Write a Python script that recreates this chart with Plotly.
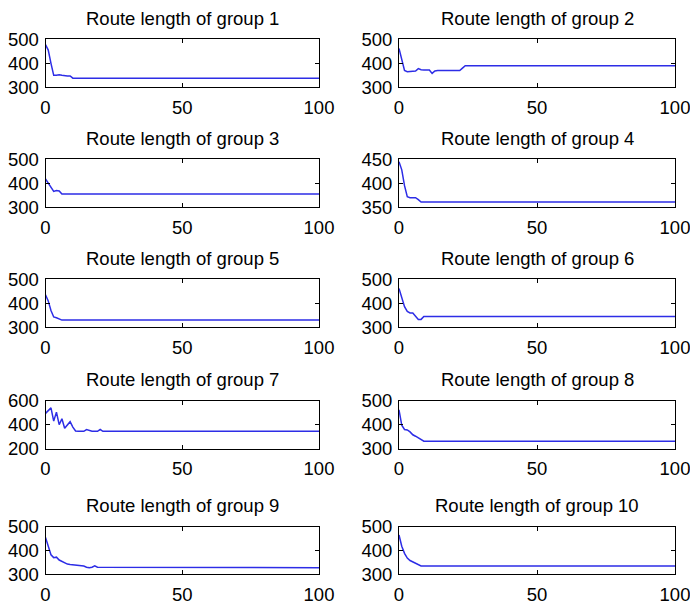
import plotly.graph_objects as go

# Route length per iteration for each group (iteration, length); the last
# point of each series marks where the converged value ends at iteration 100.
g1_iter = [0, 1, 2, 3, 4, 5, 6, 7, 8, 9, 10, 100]
g1_len = [478, 455, 400, 350, 350, 352, 350, 347, 347, 347, 338, 338]

g2_iter = [0, 1, 2, 3, 4, 5, 6, 7, 8, 9, 10, 11, 12, 13, 14, 22, 23, 24, 100]
g2_len = [462, 420, 370, 365, 365, 365, 368, 378, 373, 372, 372, 372, 358, 368, 370, 370, 380, 390, 390]

g3_iter = [0, 1, 2, 3, 4, 5, 6, 100]
g3_len = [418, 400, 380, 366, 370, 368, 355, 355]

g4_iter = [0, 1, 2, 3, 4, 5, 6, 7, 8, 100]
g4_len = [445, 428, 395, 372, 370, 370, 370, 366, 361, 361]

g5_iter = [0, 1, 2, 3, 4, 5, 6, 100]
g5_len = [435, 410, 370, 343, 340, 336, 330, 330]

g6_iter = [0, 1, 2, 3, 4, 5, 6, 7, 8, 9, 100]
g6_len = [462, 420, 386, 366, 360, 360, 348, 333, 333, 345, 345]

g7_iter = [0, 1, 2, 3, 4, 5, 6, 7, 8, 9, 10, 11, 12, 13, 14, 15, 16, 17, 18, 19, 20, 21, 100]
g7_len = [494, 515, 540, 430, 505, 400, 450, 370, 400, 425, 380, 348, 345, 345, 345, 360, 352,
          345, 345, 345, 360, 345, 345]

g8_iter = [0, 1, 2, 3, 4, 5, 6, 7, 8, 9, 100]
g8_len = [462, 398, 380, 378, 370, 358, 352, 346, 337, 331, 331]

g9_iter = [0, 1, 2, 3, 4, 5, 6, 7, 8, 9, 10, 11, 12, 13, 14, 15, 16, 17, 18, 19, 100]
g9_len = [455, 415, 382, 370, 372, 360, 354, 347, 343, 341, 340, 337, 336, 336, 335, 330, 328,
          330, 336, 330, 328]

g10_iter = [0, 1, 2, 3, 4, 5, 6, 7, 8, 100]
g10_len = [465, 418, 388, 368, 358, 352, 344, 338, 335, 335]

titles = [f"Route length of group {i}" for i in range(1, 11)]
series = [(g1_iter, g1_len), (g2_iter, g2_len), (g3_iter, g3_len), (g4_iter, g4_len),
          (g5_iter, g5_len), (g6_iter, g6_len), (g7_iter, g7_len), (g8_iter, g8_len),
          (g9_iter, g9_len), (g10_iter, g10_len)]
y_ticks = [[300, 400, 500], [300, 400, 500], [300, 400, 500], [350, 400, 450],
           [300, 400, 500], [300, 400, 500], [200, 400, 600], [300, 400, 500],
           [300, 400, 500], [300, 400, 500]]
x_ticks = [0, 50, 100]

W, H = 690, 603
col_px = [(45.5, 319.0), (399.0, 675.0)]
row_px = [(39.3, 87.3), (159.3, 207.3), (279.3, 327.3), (400.7, 448.7), (526.7, 574.3)]

FONT = "Liberation Sans, Arial, sans-serif"
FS = 18.5
fig = go.Figure()
annotations = []
layout = {}

for i, ((xs, ys), title, yt) in enumerate(zip(series, titles, y_ticks)):
    r, c = divmod(i, 2)
    n = "" if i == 0 else str(i + 1)
    x0, x1 = col_px[c]
    top, bot = row_px[r]
    fig.add_trace(go.Scatter(
        x=xs, y=ys, mode="lines",
        line=dict(color="rgb(45,45,230)", width=1.5),
        xaxis=f"x{n}", yaxis=f"y{n}", showlegend=False, hoverinfo="skip",
    ))
    common = dict(
        showline=True, linecolor="black", linewidth=1, mirror="ticks",
        ticks="inside", ticklen=4, tickcolor="black", showgrid=False,
        zeroline=False, automargin=False, ticklabeloverflow="allow",
        tickfont=dict(family=FONT, size=FS, color="black"),
    )
    layout[f"xaxis{n}"] = dict(
        domain=[x0 / W, x1 / W], range=[0, 100], tickvals=x_ticks,
        anchor=f"y{n}", ticklabelstandoff=3, **common,
    )
    layout[f"yaxis{n}"] = dict(
        domain=[1 - bot / H, 1 - top / H], range=[yt[0], yt[-1]], tickvals=yt,
        anchor=f"x{n}", ticklabelstandoff=2, **common,
    )
    annotations.append(dict(
        text=title, xref="paper", yref="paper",
        x=(x0 + x1) / 2 / W, y=1 - (top - 21) / H,
        xanchor="center", yanchor="middle", showarrow=False,
        font=dict(family=FONT, size=FS, color="black"),
    ))

fig.update_layout(
    width=W, height=H, margin=dict(l=0, r=0, t=0, b=0, autoexpand=False),
    paper_bgcolor="white", plot_bgcolor="white",
    annotations=annotations, **layout,
)

fig.write_html("out.html")
